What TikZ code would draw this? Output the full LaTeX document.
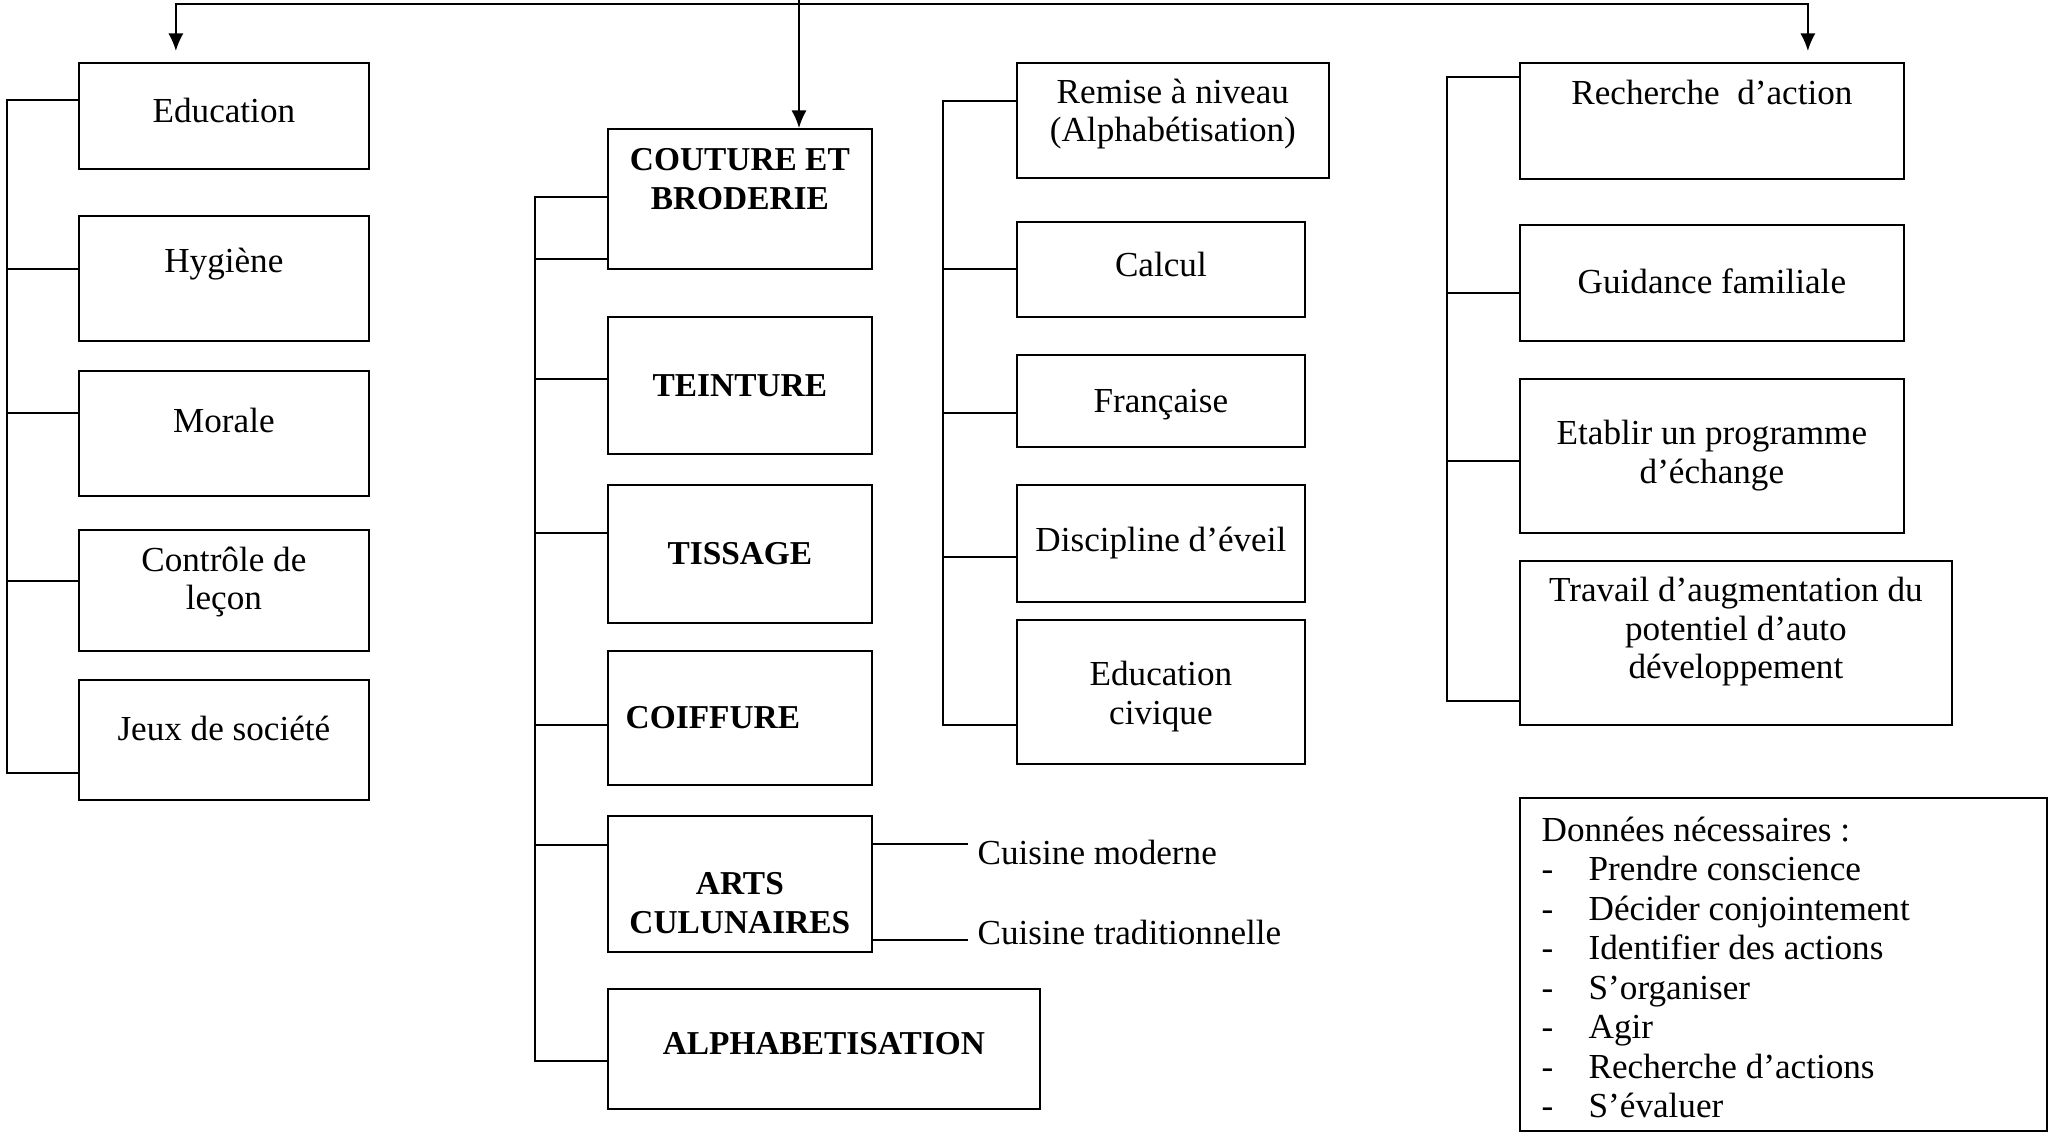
\documentclass[tikz,border=0pt]{standalone}
\usepackage{fontspec}
\setmainfont{Liberation Serif}
\usepackage{tikz}
\usetikzlibrary{arrows.meta,positioning}

\begin{document}
\begin{tikzpicture}[
        % Define styles for boxes, texts and lines
        every node/.style={
            font=\fontsize{10}{11}\selectfont,
            align=center
        },
        boite/.style={
            draw,
            rectangle,
            line width=0.5pt,
            anchor=north west,
            inner sep=0pt
        },
        titre/.style={
            font=\fontsize{9.5}{11}\selectfont\bfseries
        },
        lien/.style={
            line width=0.5pt
        },
        fleche/.style={
            -{Latex[length=5pt,width=4.3pt]},
            line width=0.5pt
        }
    ]

    \useasboundingbox (0,0) rectangle (20.51,-11.32);

    % Left column
    \node[boite, minimum width=2.90cm, minimum height=1.06cm] (edu) at (0.78,-0.62) {};
    \node[yshift=0.05cm] (edu-t) at (edu.center) {Education};
    \node[boite, minimum width=2.90cm, minimum height=1.25cm] (hyg) at (0.78,-2.15) {};
    \node[yshift=0.145cm] (hyg-t) at (hyg.center) {Hygiène};
    \node[boite, minimum width=2.90cm, minimum height=1.25cm] (mor) at (0.78,-3.70) {};
    \node[yshift=0.125cm] (mor-t) at (mor.center) {Morale};
    \node[boite, minimum width=2.90cm, minimum height=1.21cm] (ctl) at (0.78,-5.29) {};
    \node[yshift=0.085cm] (ctl-t) at (ctl.center) {Contrôle de\\leçon};
    \node[boite, minimum width=2.90cm, minimum height=1.20cm] (jeux) at (0.78,-6.79) {};
    \node[yshift=0.11cm] (jeux-t) at (jeux.center) {Jeux de société};

    % Middle column (workshops)
    \node[boite, minimum width=2.64cm, minimum height=1.40cm] (cout) at (6.07,-1.28) {};
    \node[titre, yshift=0.195cm] (cout-t) at (cout.center) {COUTURE ET\\BRODERIE};
    \node[boite, minimum width=2.64cm, minimum height=1.37cm] (tein) at (6.07,-3.16) {};
    \node[titre] (tein-t) at (tein.center) {TEINTURE};
    \node[boite, minimum width=2.64cm, minimum height=1.38cm] (tiss) at (6.07,-4.84) {};
    \node[titre] (tiss-t) at (tiss.center) {TISSAGE};
    \node[boite, minimum width=2.64cm, minimum height=1.34cm] (coif) at (6.07,-6.50) {};
    \node[titre, xshift=-0.27cm] (coif-t) at (coif.center) {COIFFURE};
    \node[boite, minimum width=2.64cm, minimum height=1.36cm] (arts) at (6.07,-8.15) {};
    \node[titre, yshift=-0.19cm] (arts-t) at (arts.center) {ARTS\\CULUNAIRES};
    \node[boite, minimum width=4.32cm, minimum height=1.20cm] (alpha) at (6.07,-9.88) {};
    \node[titre, yshift=0.05cm] (alpha-t) at (alpha.center) {ALPHABETISATION};

    % Third column (lessons)
    \node[boite, minimum width=3.12cm, minimum height=1.15cm] (rem) at (10.16,-0.62) {};
    \node[yshift=0.065cm] (rem-t) at (rem.center) {Remise à niveau\\\relax(Alphabétisation)};
    \node[boite, minimum width=2.88cm, minimum height=0.95cm] (calcul) at (10.16,-2.21) {};
    \node[yshift=0.045cm] (calcul-t) at (calcul.center) {Calcul};
    \node[boite, minimum width=2.88cm, minimum height=0.92cm] (franc) at (10.16,-3.54) {};
    \node[yshift=-0.04cm] (franc-t) at (franc.center) {Française};
    \node[boite, minimum width=2.88cm, minimum height=1.17cm] (eveil) at (10.16,-4.84) {};
    \node (eveil-t) at (eveil.center) {Discipline d\textquoteright éveil};
    \node[boite, minimum width=2.88cm, minimum height=1.44cm] (civ) at (10.16,-6.19) {};
    \node[yshift=-0.05cm] (civ-t) at (civ.center) {Education\\civique};

    % Right column (actions)
    \node[boite, minimum width=3.84cm, minimum height=1.16cm] (rech) at (15.19,-0.62) {};
    \node[yshift=0.28cm] (rech-t) at (rech.center) {Recherche \ d\textquoteright action};
    \node[boite, minimum width=3.84cm, minimum height=1.16cm] (guid) at (15.19,-2.24) {};
    \node[yshift=0.02cm] (guid-t) at (guid.center) {Guidance familiale};
    \node[boite, minimum width=3.84cm, minimum height=1.54cm] (etab) at (15.19,-3.78) {};
    \node (etab-t) at (etab.center) {Etablir un programme\\d\textquoteright échange};
    \node[boite, minimum width=4.32cm, minimum height=1.64cm] (trav) at (15.19,-5.60) {};
    \node[yshift=0.11cm] (trav-t) at (trav.center) {Travail d\textquoteright augmentation du\\potentiel d\textquoteright auto\\développement};

    % Needed data
    \node[boite, minimum width=5.27cm, minimum height=3.33cm] (donnees) at (15.19,-7.97) {};
    \node[anchor=north west, inner sep=0pt, align=left, font=\fontsize{10}{11.25}\selectfont]
        (donnees-t) at ([xshift=0.22cm, yshift=-0.19cm]donnees.north west) {%
        Données nécessaires :\\
        \makebox[0.47cm][l]{-}Prendre conscience\\
        \makebox[0.47cm][l]{-}Décider conjointement\\
        \makebox[0.47cm][l]{-}Identifier des actions\\
        \makebox[0.47cm][l]{-}S\textquoteright organiser\\
        \makebox[0.47cm][l]{-}Agir\\
        \makebox[0.47cm][l]{-}Recherche d\textquoteright actions\\
        \makebox[0.47cm][l]{-}S\textquoteright évaluer};

    % Cooking branches
    \coordinate (cm-fin) at (9.68,-8.44);
    \coordinate (ct-fin) at (9.68,-9.40);
    \node[anchor=west, inner sep=0pt, right=0.09cm of cm-fin, yshift=-0.08cm] (cmod) {Cuisine moderne};
    \node[anchor=west, inner sep=0pt, right=0.09cm of ct-fin, yshift=0.08cm] (ctrad) {Cuisine traditionnelle};
    \draw[lien] (arts.east |- cm-fin) -- (cm-fin);
    \draw[lien] (arts.east |- ct-fin) -- (ct-fin);

    % Top arrows
    \coordinate (racine) at (7.99,0);
    \coordinate (haut) at (7.99,-0.04);
    \draw[fleche] (racine) -- (cout.north -| racine);
    \draw[fleche] (haut) -| ([xshift=-0.48cm, yshift=0.11cm]edu.north);
    \draw[fleche] (haut) -| ([xshift=0.96cm, yshift=0.11cm]rech.north);

    % Bus lines
    \draw[lien] ([yshift=0.16cm]edu.west) -- ++(-0.71,0) |- ([yshift=-0.33cm]jeux.west);
    \foreach \nom/\dy in {hyg/0.095, mor/0.205, ctl/0.095} {
        \draw[lien] ([yshift=\dy cm]\nom.west) -- ++(-0.71,0);
    }
    \draw[lien] ([yshift=0.02cm]cout.west) -- ++(-0.72,0) |- ([yshift=-0.12cm]alpha.west);
    \foreach \nom/\dy in {cout/-0.60, tein/0.065, tiss/0.21, coif/-0.07, arts/0.39} {
        \draw[lien] ([yshift=\dy cm]\nom.west) -- ++(-0.72,0);
    }
    \draw[lien] ([yshift=0.195cm]rem.west) -- ++(-0.73,0) |- ([yshift=-0.33cm]civ.west);
    \foreach \nom/\dy in {calcul/0, franc/-0.12, eveil/-0.135} {
        \draw[lien] ([yshift=\dy cm]\nom.west) -- ++(-0.73,0);
    }
    \draw[lien] ([yshift=0.44cm]rech.west) -- ++(-0.72,0) |- ([yshift=-0.58cm]trav.west);
    \foreach \nom/\dy in {guid/-0.10, etab/-0.05} {
        \draw[lien] ([yshift=\dy cm]\nom.west) -- ++(-0.72,0);
    }

\end{tikzpicture}
\end{document}
